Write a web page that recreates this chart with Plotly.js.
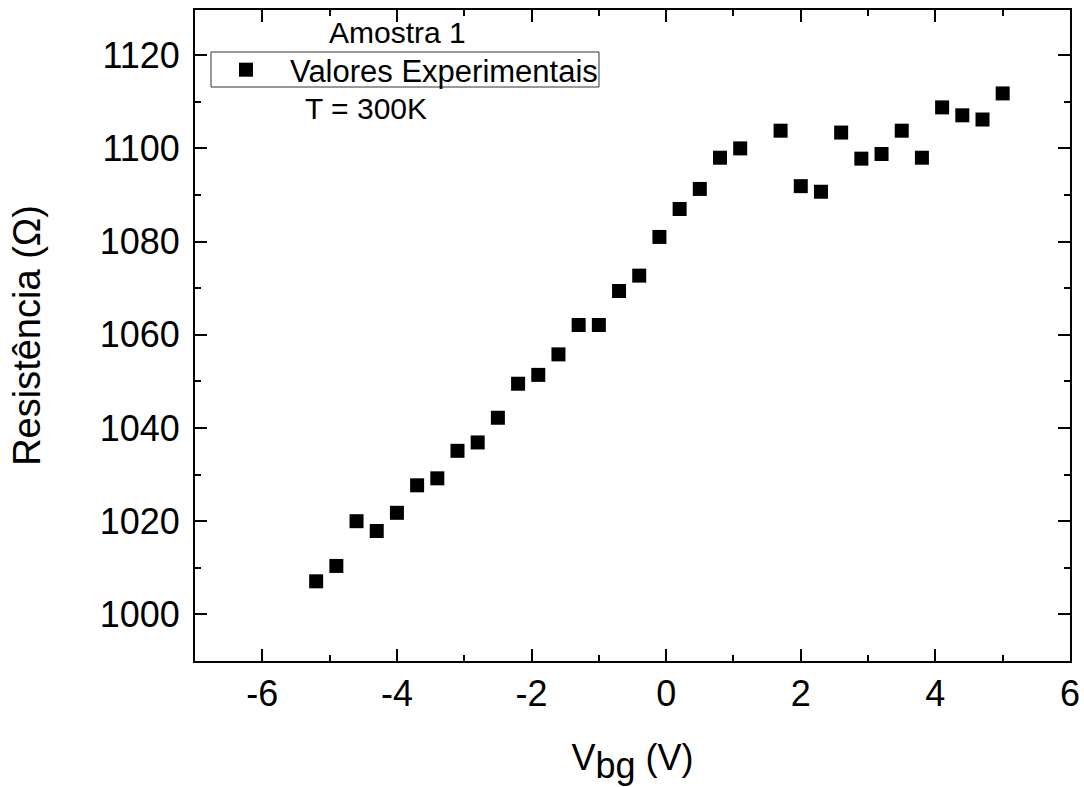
<!DOCTYPE html>
<html>
<head>
<meta charset="utf-8">
<script src="https://cdn.plot.ly/plotly-3.0.1.min.js"></script>
<style>html,body{margin:0;padding:0;background:#fff;}#chart{width:1084px;height:787px;}</style>
</head>
<body>
<div id="chart"></div>
<script>
const vbg = [-5.2,-4.9,-4.6,-4.3,-4.0,-3.7,-3.4,-3.1,-2.8,-2.5,-2.2,-1.9,-1.6,-1.3,-1.0,-0.7,-0.4,-0.1,0.2,0.5,0.8,1.1,1.7,2.0,2.3,2.6,2.9,3.2,3.5,3.8,4.1,4.4,4.7,5.0];
const resistencia = [1007.1,1010.4,1020.0,1017.9,1021.8,1027.7,1029.2,1035.1,1036.9,1042.2,1049.5,1051.4,1055.8,1062.1,1062.1,1069.4,1072.7,1081.0,1087.0,1091.3,1098.0,1100.0,1103.8,1091.9,1090.7,1103.4,1097.8,1098.8,1103.8,1098.0,1108.8,1107.1,1106.2,1111.8];
const xTickVals = [-6,-4,-2,0,2,4,6];
const xTickText = ['-6','-4','-2','0','2','4','6'];
const yTickVals = [1000,1020,1040,1060,1080,1100,1120];
const yTickText = ['1000','1020','1040','1060','1080','1100','1120'];
const seriesName = 'Valores Experimentais';
const sampleLabel = 'Amostra 1';
const tempLabel = 'T = 300K';

const FONT = 'Liberation Sans, Arial, sans-serif';

const trace = {
  x: vbg, y: resistencia, type: 'scatter', mode: 'markers', name: seriesName,
  marker: {symbol: 'square', size: 14, color: '#000', line: {width: 0}}
};

const axisCommon = {
  showgrid: false, zeroline: false, showline: true, linecolor: '#000', linewidth: 2,
  mirror: 'allticks', ticks: 'inside', ticklen: 12, tickwidth: 2, tickcolor: '#000',
  tickmode: 'array',
  tickfont: {family: FONT, size: 36, color: '#000'}
};
const minorCommon = {tickmode: 'linear', ticks: 'inside', ticklen: 6, tickwidth: 2, tickcolor: '#000', showgrid: false};

const layout = {
  width: 1084, height: 787,
  margin: {l: 195, r: 14, t: 10, b: 126},
  paper_bgcolor: '#fff', plot_bgcolor: '#fff',
  font: {family: FONT, color: '#000'},
  showlegend: true,
  legend: {
    x: 0.008, y: 0.9078, xanchor: 'left', yanchor: 'middle',
    borderwidth: 0, bgcolor: 'rgba(255,255,255,0)',
    indentation: 0, itemwidth: 78,
    font: {family: FONT, size: 31, color: '#000'}
  },
  shapes: [
    {type: 'rect', xref: 'paper', yref: 'paper', x0: 0.0183, x1: 0.4617, y0: 0.8817, y1: 0.9355,
     line: {color: '#333', width: 1}, fillcolor: 'rgba(0,0,0,0)'}
  ],
  xaxis: Object.assign({}, axisCommon, {
    range: [-7, 6], tickvals: xTickVals, ticktext: xTickText,
    minor: Object.assign({}, minorCommon, {tick0: 0, dtick: 1}),
    title: {text: 'V<sub><span style="font-size:36px">bg</span></sub> (V)', font: {family: FONT, size: 36, color: '#000'}, standoff: 32}
  }),
  yaxis: Object.assign({}, axisCommon, {
    range: [990, 1129.7], tickvals: yTickVals, ticktext: yTickText, ticklabelstandoff: 6,
    minor: Object.assign({}, minorCommon, {tick0: 1000, dtick: 10}),
    title: {text: 'Resistência (Ω)', font: {family: FONT, size: 38, color: '#000'}, standoff: 47}
  }),
  annotations: [
    {text: sampleLabel, xref: 'paper', yref: 'paper', x: 0.2309, y: 0.966, xanchor: 'center', yanchor: 'middle', showarrow: false, font: {family: FONT, size: 30, color: '#000'}},
    {text: tempLabel, xref: 'paper', yref: 'paper', x: 0.1954, y: 0.848, xanchor: 'center', yanchor: 'middle', showarrow: false, font: {family: FONT, size: 30, color: '#000'}}
  ]
};

Plotly.newPlot('chart', [trace], layout, {displayModeBar: false, staticPlot: true});
</script>
</body>
</html>
